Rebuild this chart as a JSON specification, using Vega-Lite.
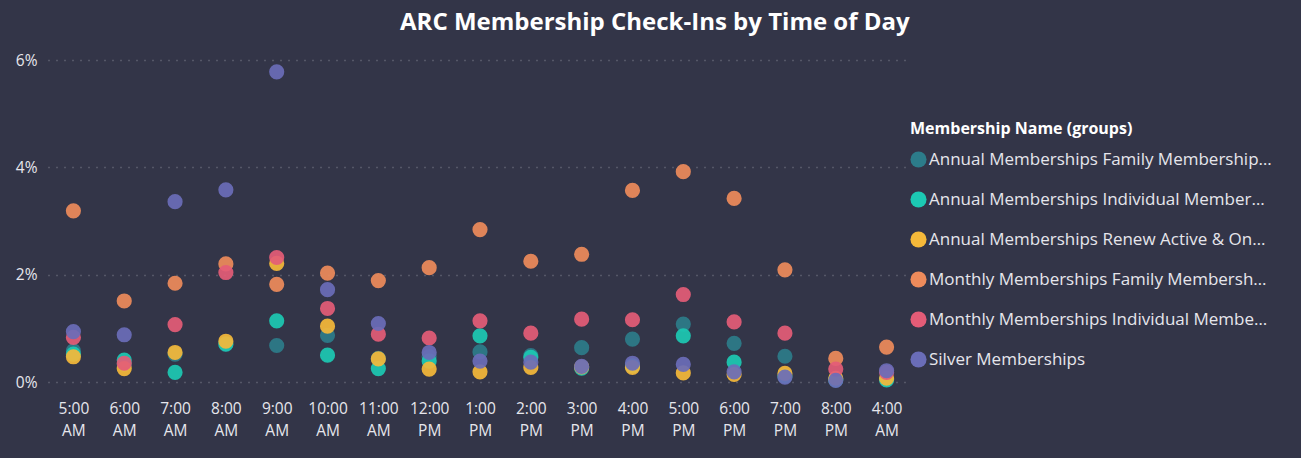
{
  "$schema": "https://vega.github.io/schema/vega-lite/v6.json",
  "autosize": {"type": "none"},
  "width": 864,
  "height": 322,
  "padding": {"left": 48, "top": 60, "right": 389, "bottom": 76},
  "background": "#333548",
  "title": {
    "text": "ARC Membership Check-Ins by Time of Day",
    "font": "Open Sans",
    "fontSize": 24,
    "fontWeight": "bold",
    "color": "#FFFFFF",
    "anchor": "start",
    "frame": "group",
    "dx": 352,
    "offset": 18
  },
  "config": {
    "view": {"stroke": null},
    "font": "Open Sans"
  },
  "data": {
    "values": [
      {"time": "5:00 AM", "group": "Annual Memberships Family Membership…", "pct": 0.58},
      {"time": "5:00 AM", "group": "Annual Memberships Individual Member…", "pct": 0.52},
      {"time": "5:00 AM", "group": "Annual Memberships Renew Active & On…", "pct": 0.47},
      {"time": "5:00 AM", "group": "Monthly Memberships Family Membersh…", "pct": 3.19},
      {"time": "5:00 AM", "group": "Monthly Memberships Individual Membe…", "pct": 0.83},
      {"time": "5:00 AM", "group": "Silver Memberships", "pct": 0.94},

      {"time": "6:00 AM", "group": "Annual Memberships Family Membership…", "pct": 0.33},
      {"time": "6:00 AM", "group": "Annual Memberships Individual Member…", "pct": 0.41},
      {"time": "6:00 AM", "group": "Annual Memberships Renew Active & On…", "pct": 0.25},
      {"time": "6:00 AM", "group": "Monthly Memberships Family Membersh…", "pct": 1.51},
      {"time": "6:00 AM", "group": "Monthly Memberships Individual Membe…", "pct": 0.35},
      {"time": "6:00 AM", "group": "Silver Memberships", "pct": 0.88},

      {"time": "7:00 AM", "group": "Annual Memberships Family Membership…", "pct": 0.52},
      {"time": "7:00 AM", "group": "Annual Memberships Individual Member…", "pct": 0.18},
      {"time": "7:00 AM", "group": "Annual Memberships Renew Active & On…", "pct": 0.55},
      {"time": "7:00 AM", "group": "Monthly Memberships Family Membersh…", "pct": 1.84},
      {"time": "7:00 AM", "group": "Monthly Memberships Individual Membe…", "pct": 1.07},
      {"time": "7:00 AM", "group": "Silver Memberships", "pct": 3.36},

      {"time": "8:00 AM", "group": "Annual Memberships Family Membership…", "pct": 0.70},
      {"time": "8:00 AM", "group": "Annual Memberships Individual Member…", "pct": 0.71},
      {"time": "8:00 AM", "group": "Annual Memberships Renew Active & On…", "pct": 0.76},
      {"time": "8:00 AM", "group": "Monthly Memberships Family Membersh…", "pct": 2.20},
      {"time": "8:00 AM", "group": "Monthly Memberships Individual Membe…", "pct": 2.04},
      {"time": "8:00 AM", "group": "Silver Memberships", "pct": 3.58},

      {"time": "9:00 AM", "group": "Annual Memberships Family Membership…", "pct": 0.68},
      {"time": "9:00 AM", "group": "Annual Memberships Individual Member…", "pct": 1.14},
      {"time": "9:00 AM", "group": "Annual Memberships Renew Active & On…", "pct": 2.21},
      {"time": "9:00 AM", "group": "Monthly Memberships Family Membersh…", "pct": 1.82},
      {"time": "9:00 AM", "group": "Monthly Memberships Individual Membe…", "pct": 2.32},
      {"time": "9:00 AM", "group": "Silver Memberships", "pct": 5.78},

      {"time": "10:00 AM", "group": "Annual Memberships Family Membership…", "pct": 0.87},
      {"time": "10:00 AM", "group": "Annual Memberships Individual Member…", "pct": 0.50},
      {"time": "10:00 AM", "group": "Annual Memberships Renew Active & On…", "pct": 1.04},
      {"time": "10:00 AM", "group": "Monthly Memberships Family Membersh…", "pct": 2.03},
      {"time": "10:00 AM", "group": "Monthly Memberships Individual Membe…", "pct": 1.37},
      {"time": "10:00 AM", "group": "Silver Memberships", "pct": 1.72},

      {"time": "11:00 AM", "group": "Annual Memberships Family Membership…", "pct": 0.44},
      {"time": "11:00 AM", "group": "Annual Memberships Individual Member…", "pct": 0.25},
      {"time": "11:00 AM", "group": "Annual Memberships Renew Active & On…", "pct": 0.43},
      {"time": "11:00 AM", "group": "Monthly Memberships Family Membersh…", "pct": 1.89},
      {"time": "11:00 AM", "group": "Monthly Memberships Individual Membe…", "pct": 0.89},
      {"time": "11:00 AM", "group": "Silver Memberships", "pct": 1.09},

      {"time": "12:00 PM", "group": "Annual Memberships Family Membership…", "pct": 0.47},
      {"time": "12:00 PM", "group": "Annual Memberships Individual Member…", "pct": 0.39},
      {"time": "12:00 PM", "group": "Annual Memberships Renew Active & On…", "pct": 0.24},
      {"time": "12:00 PM", "group": "Monthly Memberships Family Membersh…", "pct": 2.13},
      {"time": "12:00 PM", "group": "Monthly Memberships Individual Membe…", "pct": 0.82},
      {"time": "12:00 PM", "group": "Silver Memberships", "pct": 0.55},

      {"time": "1:00 PM", "group": "Annual Memberships Family Membership…", "pct": 0.56},
      {"time": "1:00 PM", "group": "Annual Memberships Individual Member…", "pct": 0.86},
      {"time": "1:00 PM", "group": "Annual Memberships Renew Active & On…", "pct": 0.19},
      {"time": "1:00 PM", "group": "Monthly Memberships Family Membersh…", "pct": 2.84},
      {"time": "1:00 PM", "group": "Monthly Memberships Individual Membe…", "pct": 1.14},
      {"time": "1:00 PM", "group": "Silver Memberships", "pct": 0.39},

      {"time": "2:00 PM", "group": "Annual Memberships Family Membership…", "pct": 0.49},
      {"time": "2:00 PM", "group": "Annual Memberships Individual Member…", "pct": 0.46},
      {"time": "2:00 PM", "group": "Annual Memberships Renew Active & On…", "pct": 0.27},
      {"time": "2:00 PM", "group": "Monthly Memberships Family Membersh…", "pct": 2.25},
      {"time": "2:00 PM", "group": "Monthly Memberships Individual Membe…", "pct": 0.91},
      {"time": "2:00 PM", "group": "Silver Memberships", "pct": 0.37},

      {"time": "3:00 PM", "group": "Annual Memberships Family Membership…", "pct": 0.64},
      {"time": "3:00 PM", "group": "Annual Memberships Individual Member…", "pct": 0.26},
      {"time": "3:00 PM", "group": "Annual Memberships Renew Active & On…", "pct": 0.28},
      {"time": "3:00 PM", "group": "Monthly Memberships Family Membersh…", "pct": 2.38},
      {"time": "3:00 PM", "group": "Monthly Memberships Individual Membe…", "pct": 1.17},
      {"time": "3:00 PM", "group": "Silver Memberships", "pct": 0.29},

      {"time": "4:00 PM", "group": "Annual Memberships Family Membership…", "pct": 0.80},
      {"time": "4:00 PM", "group": "Annual Memberships Individual Member…", "pct": 0.30},
      {"time": "4:00 PM", "group": "Annual Memberships Renew Active & On…", "pct": 0.27},
      {"time": "4:00 PM", "group": "Monthly Memberships Family Membersh…", "pct": 3.57},
      {"time": "4:00 PM", "group": "Monthly Memberships Individual Membe…", "pct": 1.16},
      {"time": "4:00 PM", "group": "Silver Memberships", "pct": 0.35},

      {"time": "5:00 PM", "group": "Annual Memberships Family Membership…", "pct": 1.08},
      {"time": "5:00 PM", "group": "Annual Memberships Individual Member…", "pct": 0.86},
      {"time": "5:00 PM", "group": "Annual Memberships Renew Active & On…", "pct": 0.17},
      {"time": "5:00 PM", "group": "Monthly Memberships Family Membersh…", "pct": 3.92},
      {"time": "5:00 PM", "group": "Monthly Memberships Individual Membe…", "pct": 1.63},
      {"time": "5:00 PM", "group": "Silver Memberships", "pct": 0.33},

      {"time": "6:00 PM", "group": "Annual Memberships Family Membership…", "pct": 0.72},
      {"time": "6:00 PM", "group": "Annual Memberships Individual Member…", "pct": 0.37},
      {"time": "6:00 PM", "group": "Annual Memberships Renew Active & On…", "pct": 0.14},
      {"time": "6:00 PM", "group": "Monthly Memberships Family Membersh…", "pct": 3.42},
      {"time": "6:00 PM", "group": "Monthly Memberships Individual Membe…", "pct": 1.12},
      {"time": "6:00 PM", "group": "Silver Memberships", "pct": 0.19},

      {"time": "7:00 PM", "group": "Annual Memberships Family Membership…", "pct": 0.48},
      {"time": "7:00 PM", "group": "Annual Memberships Individual Member…", "pct": 0.11},
      {"time": "7:00 PM", "group": "Annual Memberships Renew Active & On…", "pct": 0.16},
      {"time": "7:00 PM", "group": "Monthly Memberships Family Membersh…", "pct": 2.09},
      {"time": "7:00 PM", "group": "Monthly Memberships Individual Membe…", "pct": 0.91},
      {"time": "7:00 PM", "group": "Silver Memberships", "pct": 0.09},

      {"time": "8:00 PM", "group": "Annual Memberships Family Membership…", "pct": 0.05},
      {"time": "8:00 PM", "group": "Annual Memberships Individual Member…", "pct": 0.04},
      {"time": "8:00 PM", "group": "Annual Memberships Renew Active & On…", "pct": 0.07},
      {"time": "8:00 PM", "group": "Monthly Memberships Family Membersh…", "pct": 0.44},
      {"time": "8:00 PM", "group": "Monthly Memberships Individual Membe…", "pct": 0.24},
      {"time": "8:00 PM", "group": "Silver Memberships", "pct": 0.03},

      {"time": "4:00 AM", "group": "Annual Memberships Family Membership…", "pct": 0.05},
      {"time": "4:00 AM", "group": "Annual Memberships Individual Member…", "pct": 0.04},
      {"time": "4:00 AM", "group": "Annual Memberships Renew Active & On…", "pct": 0.07},
      {"time": "4:00 AM", "group": "Monthly Memberships Family Membersh…", "pct": 0.65},
      {"time": "4:00 AM", "group": "Monthly Memberships Individual Membe…", "pct": 0.18},
      {"time": "4:00 AM", "group": "Silver Memberships", "pct": 0.21}
    ]
  },
  "mark": {"type": "point", "filled": true, "size": 230, "opacity": 0.92, "shape": "circle"},
  "encoding": {
    "x": {
      "field": "time",
      "type": "nominal",
      "sort": ["5:00 AM","6:00 AM","7:00 AM","8:00 AM","9:00 AM","10:00 AM","11:00 AM","12:00 PM","1:00 PM","2:00 PM","3:00 PM","4:00 PM","5:00 PM","6:00 PM","7:00 PM","8:00 PM","4:00 AM"],
      "title": null,
      "axis": {
        "labelAngle": 0,
        "labelExpr": "split(datum.label, ' ')",
        "labelFontSize": 15.5,
        "labelLineHeight": 22,
        "labelColor": "#E6E6EC",
        "labelFont": "Open Sans",
        "labelPadding": 19,
        "domain": false,
        "ticks": false,
        "grid": false
      }
    },
    "y": {
      "field": "pct",
      "type": "quantitative",
      "title": null,
      "scale": {"domain": [0, 6], "nice": false},
      "axis": {
        "values": [0, 2, 4, 6],
        "labelExpr": "datum.value + '%'",
        "labelFontSize": 15.5,
        "labelColor": "#E6E6EC",
        "labelFont": "Open Sans",
        "labelPadding": 11,
        "domain": false,
        "ticks": false,
        "grid": true,
        "gridColor": "#8A8C9A",
        "gridDash": [1, 7],
        "gridWidth": 1.5,
        "gridOpacity": 0.8
      }
    },
    "color": {
      "field": "group",
      "type": "nominal",
      "scale": {
        "domain": ["Annual Memberships Family Membership…", "Annual Memberships Individual Member…", "Annual Memberships Renew Active & On…", "Monthly Memberships Family Membersh…", "Monthly Memberships Individual Membe…", "Silver Memberships"],
        "range": ["#2C7C8A", "#1CC9B3", "#F5B93A", "#EE8B5B", "#E45C77", "#6A6DB8"]
      },
      "legend": {
        "title": "Membership Name (groups)",
        "orient": "none",
        "legendX": 862,
        "legendY": 61,
        "titleFont": "Open Sans",
        "titleFontSize": 16,
        "titleFontWeight": "bold",
        "titleColor": "#FFFFFF",
        "titleLimit": 400,
        "titlePadding": 14,
        "labelFont": "Open Sans",
        "labelFontSize": 17,
        "labelColor": "#E6E6EC",
        "labelLimit": 400,
        "labelOffset": 2,
        "symbolType": "circle",
        "symbolSize": 260,
        "symbolOpacity": 1,
        "symbolStrokeWidth": 0,
        "rowPadding": 22
      }
    }
  }
}
